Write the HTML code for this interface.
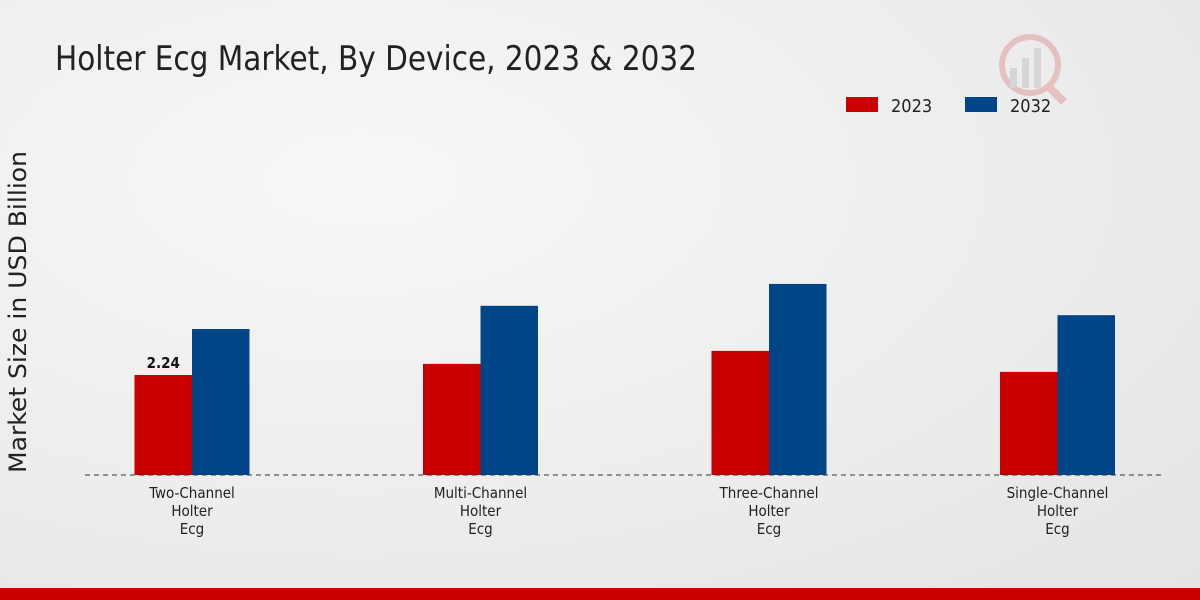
<!DOCTYPE html>
<html><head><meta charset="utf-8"><style>
html,body{margin:0;padding:0;width:1200px;height:600px;overflow:hidden}
body{background:radial-gradient(ellipse at 30% 30%,#f7f7f7 0%,#ececec 60%,#e4e4e4 100%);font-family:"DejaVu Sans Condensed","Liberation Sans",sans-serif}
</style></head><body>
<svg id="chart" width="1200" height="600" xmlns="http://www.w3.org/2000/svg">
<text x="55" y="70" font-size="34" fill="#222" textLength="642" lengthAdjust="spacingAndGlyphs">Holter Ecg Market, By Device, 2023 &amp; 2032</text>
<text transform="translate(26,312) rotate(-90)" text-anchor="middle" font-size="24" fill="#222" textLength="322" lengthAdjust="spacingAndGlyphs">Market Size in USD Billion</text>
<g opacity="0.18">
<circle cx="1030" cy="65" r="28" fill="none" stroke="#c80000" stroke-width="6"/>
<rect x="1010" y="68" width="7" height="20" fill="#777"/>
<rect x="1022" y="58" width="7" height="30" fill="#777"/>
<rect x="1034" y="48" width="7" height="40" fill="#777"/>
<line x1="1050" y1="88" x2="1064" y2="102" stroke="#c80000" stroke-width="8"/>
</g>
<g>
<rect x="846" y="97" width="32" height="15" fill="#c80000"/>
<text x="891" y="112" font-size="18" fill="#222">2023</text>
<rect x="965" y="97" width="32" height="15" fill="#004587"/>
<text x="1010" y="112" font-size="18" fill="#222">2032</text>
</g>
<g id="bars"></g>
<line x1="85" y1="475" x2="1163" y2="475" stroke="#333" stroke-dasharray="5,4" stroke-width="1"/>
<rect x="0" y="588" width="1200" height="12" fill="#c80000"/>
</svg>
<script>
const categories=[["Two-Channel","Holter","Ecg"],["Multi-Channel","Holter","Ecg"],["Three-Channel","Holter","Ecg"],["Single-Channel","Holter","Ecg"]];
const values2023=[2.24,2.49,2.78,2.31];
const values2032=[3.27,3.79,4.28,3.58];
const labels2023=["2.24","","",""];
const NS="http://www.w3.org/2000/svg";
const g=document.getElementById("bars");
const base=475,scale=44.64,x0=192,step=288.5,bw=57.5;
function y(v){return base-v*scale;}
function cx(i){return x0+i*step;}
function mk(t,a){const e=document.createElementNS(NS,t);for(const k in a)e.setAttribute(k,a[k]);g.appendChild(e);return e;}
categories.forEach((c,i)=>{
 let r=mk("rect",{x:cx(i)-bw,y:y(values2023[i]),width:bw,height:values2023[i]*scale,fill:"#c80000"});
 
 
 let b=mk("rect",{x:cx(i),y:y(values2032[i]),width:bw,height:values2032[i]*scale,fill:"#004587"});
 
 
 if(labels2023[i]){let t=mk("text",{x:cx(i)-bw/2,y:y(values2023[i])-7,"text-anchor":"middle","font-size":"15","font-weight":"bold",fill:"#111"});t.textContent=labels2023[i];
 
 }
 c.forEach((line,j)=>{let t=mk("text",{x:cx(i),y:498+j*18,"text-anchor":"middle","font-size":"15",fill:"#222"});t.textContent=line;
 
 });
});
</script>
</body></html>
